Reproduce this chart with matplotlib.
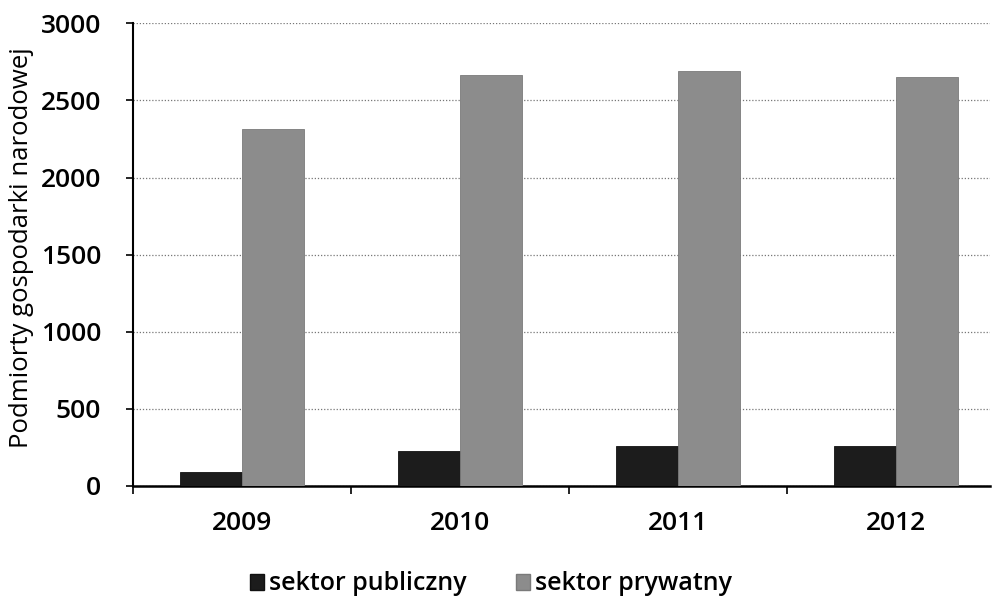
import matplotlib
matplotlib.use("Agg")
import matplotlib.pyplot as plt
import numpy as np
from matplotlib.patches import Patch

years = ["2009", "2010", "2011", "2012"]
publiczny = [88, 230, 262, 262]
prywatny = [2315, 2662, 2692, 2650]
series_labels = ["sektor publiczny", "sektor prywatny"]
yticks = [0, 500, 1000, 1500, 2000, 2500, 3000]

plt.rcParams['font.family'] = ['Open Sans', 'DejaVu Sans']
plt.rcParams['font.weight'] = 'semibold'
FS = 19

fig = plt.figure(figsize=(9.96, 6.02), dpi=100)
ax = fig.add_axes([0.1335, 0.1927, 0.994 - 0.1335, 0.9613 - 0.1927])

x = np.arange(len(years))
w = 0.285
ax.bar(x - w / 2, publiczny, width=w, color="#1c1c1c", edgecolor="#111111", linewidth=0.6, zorder=3)
ax.bar(x + w / 2, prywatny, width=w, color="#8c8c8c", edgecolor="#7a7a7a", linewidth=0.6, zorder=3)

ax.set_ylim(0, 3000)
ax.set_xlim(-0.5, 3.43)
ax.set_yticks(yticks)
ax.set_yticklabels([str(v) for v in yticks], fontsize=FS)
ax.set_xticks(x)
ax.set_xticklabels(years, fontsize=FS)
ax.set_xticks(np.arange(len(years)) - 0.5, minor=True)
ax.tick_params(axis='x', which='major', length=0, pad=18)
ax.tick_params(axis='x', which='minor', length=6, width=1.2, direction='out', color='black')
ax.tick_params(axis='y', which='major', length=5, width=1.2, direction='out', pad=18)

ax.yaxis.grid(True, linestyle=(0, (1, 1.5)), color="#777777", linewidth=0.9, zorder=0)
for s in ['top', 'right']:
    ax.spines[s].set_visible(False)
ax.spines['left'].set_linewidth(1.5)
ax.spines['bottom'].set_linewidth(1.8)

ax.set_ylabel("Podmiorty gospodarki narodowej", fontsize=18.5, fontweight='normal')
ax.yaxis.set_label_coords(-0.115, 0.515)

handles = [Patch(facecolor="#1c1c1c", edgecolor="#111111"),
           Patch(facecolor="#8c8c8c", edgecolor="#7a7a7a")]
fig.legend(handles, series_labels, loc='center', bbox_to_anchor=(0.493, 0.03), ncol=2,
           frameon=False, fontsize=18, handlelength=0.55, handleheight=0.6,
           handletextpad=0.2, columnspacing=2.0, borderpad=0)

fig.savefig("out.png", dpi=100)
